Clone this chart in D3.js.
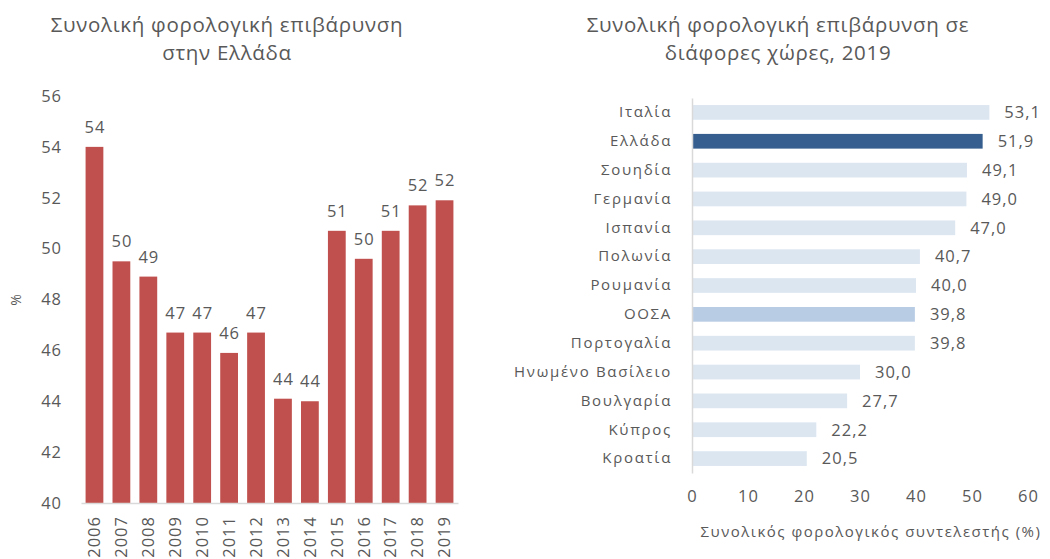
<!DOCTYPE html>
<html>
<head>
<meta charset="utf-8">
<script src="https://cdn.jsdelivr.net/npm/d3@7"></script>
<style>
  body { margin: 0; background: #fff; }
  svg text { font-family: "Open Sans", sans-serif; fill: #595959; }
</style>
</head>
<body>
<svg class="chart" width="1050" height="559"></svg>
<script>
const years = ['2006', '2007', '2008', '2009', '2010', '2011', '2012', '2013', '2014', '2015', '2016', '2017', '2018', '2019'];
const burden = [54.0, 49.5, 48.9, 46.7, 46.7, 45.9, 46.7, 44.1, 44.0, 50.7, 49.6, 50.7, 51.7, 51.9];
const yTicks = [40, 42, 44, 46, 48, 50, 52, 54, 56];

const countries = ['Ιταλία', 'Ελλάδα', 'Σουηδία', 'Γερμανία', 'Ισπανία', 'Πολωνία', 'Ρουμανία', 'ΟΟΣΑ', 'Πορτογαλία', 'Ηνωμένο Βασίλειο', 'Βουλγαρία', 'Κύπρος', 'Κροατία'];
const rates = [53.1, 51.9, 49.1, 49.0, 47.0, 40.7, 40.0, 39.8, 39.8, 30.0, 27.7, 22.2, 20.5];
const xTicks = [0, 10, 20, 30, 40, 50, 60];

const svg = d3.select('.chart');
const fmtComma = d3.format('.1f');

// text in the original is wide and loosely spaced
const title = (x, y, txt) => svg.append('text')
  .attr('x', x).attr('y', y)
  .attr('text-anchor', 'middle')
  .style('font-size', '20.5px')
  .style('letter-spacing', '0.7px')
  .text(txt);

// ---------- left: Greece over time ----------
const left = { x0: 81, x1: 458, y0: 96, y1: 503 };

const xYear = d3.scaleBand()
  .domain(years)
  .range([left.x0, left.x1])
  .paddingInner(0.34)
  .paddingOuter(0.17);

const yVal = d3.scaleLinear()
  .domain([40, 56])
  .range([left.y1, left.y0]);

title(227, 32, 'Συνολική φορολογική επιβάρυνση');
title(227, 60, 'στην Ελλάδα');

const yAxisG = svg.append('g')
  .attr('transform', `translate(${left.x0 - 12},0)`)
  .call(d3.axisLeft(yVal).tickValues(yTicks).tickSize(0).tickPadding(7));
yAxisG.select('.domain').remove();
yAxisG.selectAll('text')
  .style('font-size', '16.5px')
  .style('letter-spacing', '1px')
  .attr('fill', '#595959');

svg.append('text')
  .attr('transform', 'translate(21,300) rotate(-90)')
  .attr('text-anchor', 'middle')
  .style('font-size', '14px')
  .text('%');

svg.append('g').selectAll('rect')
  .data(burden)
  .enter()
  .append('rect')
    .attr('x', (d, i) => xYear(years[i]))
    .attr('y', d => yVal(d))
    .attr('width', xYear.bandwidth())
    .attr('height', d => yVal(40) - yVal(d))
    .attr('fill', '#c0504d');

svg.append('g').selectAll('text')
  .data(burden)
  .enter()
  .append('text')
    .attr('x', (d, i) => xYear(years[i]) + xYear.bandwidth() / 2 + 0.5)
    .attr('y', d => yVal(d) - 14)
    .attr('text-anchor', 'middle')
    .style('font-size', '16.5px')
    .style('letter-spacing', '1px')
    .text(d => Math.round(d));

const xAxisG = svg.append('g')
  .attr('transform', `translate(0,${left.y1})`)
  .call(d3.axisBottom(xYear).tickSize(0).tickPadding(0));
xAxisG.select('.domain').attr('stroke', '#d9d9d9').attr('stroke-width', 1.5);
xAxisG.selectAll('text')
  .attr('transform', 'rotate(-90)')
  .attr('x', -13).attr('y', 0).attr('dy', '0.35em')
  .attr('text-anchor', 'end')
  .attr('fill', '#595959')
  .style('font-size', '16.5px')
  .style('letter-spacing', '1px');

// ---------- right: countries 2019 ----------
const right = { x0: 692, x1: 1028, y0: 98, y1: 473 };

const xRate = d3.scaleLinear()
  .domain([0, 60])
  .range([right.x0, right.x1]);

const yCountry = d3.scaleBand()
  .domain(countries)
  .range([right.y0, right.y1])
  .paddingInner(0.49)
  .paddingOuter(0.245);

title(778, 32, 'Συνολική φορολογική επιβάρυνση σε');
title(778, 60, 'διάφορες χώρες, 2019');

const barColor = c => c === 'Ελλάδα' ? '#365e8f' : c === 'ΟΟΣΑ' ? '#b8cce4' : '#dce6f1';

svg.append('g').selectAll('rect')
  .data(rates)
  .enter()
  .append('rect')
    .attr('x', xRate(0))
    .attr('y', (d, i) => yCountry(countries[i]))
    .attr('width', d => xRate(d) - xRate(0))
    .attr('height', yCountry.bandwidth())
    .attr('fill', (d, i) => barColor(countries[i]));

svg.append('g').selectAll('text')
  .data(rates)
  .enter()
  .append('text')
    .attr('x', d => xRate(d) + 15)
    .attr('y', (d, i) => yCountry(countries[i]) + yCountry.bandwidth() / 2)
    .attr('dy', '0.35em')
    .style('font-size', '16.5px')
    .style('letter-spacing', '1px')
    .text(d => fmtComma(d).replace('.', ','));

const yAxisR = svg.append('g')
  .attr('transform', `translate(${right.x0},0)`)
  .call(d3.axisLeft(yCountry).tickSize(0).tickPadding(20));
yAxisR.select('.domain').attr('stroke', '#d9d9d9').attr('stroke-width', 1.5);
yAxisR.selectAll('text')
  .style('font-size', '15px')
  .style('letter-spacing', '1.7px')
  .attr('fill', '#595959');

const xAxisR = svg.append('g')
  .attr('transform', `translate(0,${right.y1 + 17})`)
  .call(d3.axisBottom(xRate).tickValues(xTicks).tickSize(0).tickPadding(0));
xAxisR.select('.domain').remove();
xAxisR.selectAll('text')
  .style('font-size', '16.5px')
  .style('letter-spacing', '1px')
  .attr('fill', '#595959');

svg.append('text')
  .attr('x', 871).attr('y', 537)
  .attr('text-anchor', 'middle')
  .style('font-size', '15px')
  .style('letter-spacing', '1.5px')
  .text('Συνολικός φορολογικός συντελεστής (%)');
</script>
</body>
</html>
